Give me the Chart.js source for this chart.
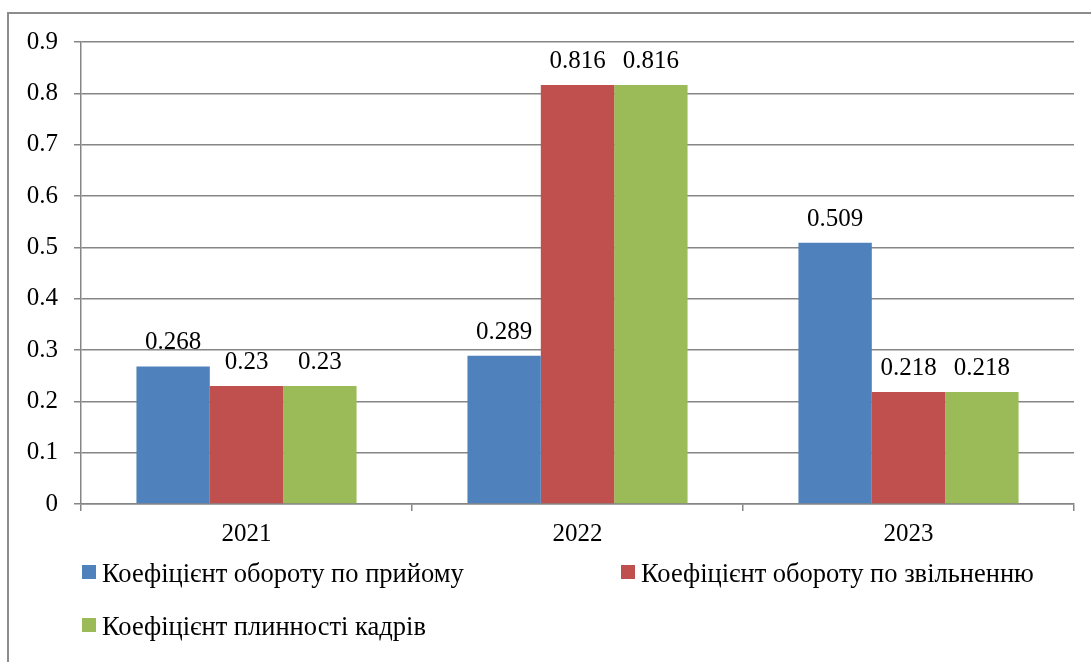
<!DOCTYPE html>
<html>
<head>
<meta charset="utf-8">
<script src="https://cdn.jsdelivr.net/npm/chart.js@4/dist/chart.umd.min.js"></script>
<style>
  html, body { margin: 0; padding: 0; background: #fff; overflow: hidden; }
  #wrap { position: relative; width: 1091px; height: 662px; }
  #frame { position: absolute; left: 7px; top: 12px; width: 2000px; height: 2000px; border: 2px solid #8c8c8c; }
  #chart { position: absolute; left: 0; top: 0; }
</style>
</head>
<body>
<div id="wrap">
  <div id="frame"></div>
  <canvas id="chart" width="1091" height="662"></canvas>
</div>
<script>
const years = ['2021', '2022', '2023'];
const hireRate = [0.268, 0.289, 0.509];
const leaveRate = [0.23, 0.816, 0.218];
const turnoverRate = [0.23, 0.816, 0.218];
const seriesNames = [
    'Коефіцієнт обороту по прийому',
    'Коефіцієнт обороту по звільненню',
    'Коефіцієнт плинності кадрів'
];
const colors = ['#4F81BD', '#C0504D', '#9BBB59'];

const serif = "'Liberation Serif', serif";

// value labels above bars
const barLabels = {
    id: 'barLabels',
    afterDatasetsDraw(chart) {
        const ctx = chart.ctx;
        ctx.save();
        ctx.font = "25px 'Liberation Serif', serif";
        ctx.fillStyle = '#000';
        ctx.textAlign = 'center';
        ctx.textBaseline = 'alphabetic';
        chart.data.datasets.forEach((ds, i) => {
            chart.getDatasetMeta(i).data.forEach((bar, j) => {
                ctx.fillText(String(ds.data[j]), bar.x, bar.y - 17);
            });
        });
        ctx.restore();
    }
};

// Excel-style legend: two columns, left aligned
const sideLegend = {
    id: 'sideLegend',
    afterDraw(chart) {
        const ctx = chart.ctx;
        const spots = [[82, 565], [621, 565], [82, 618]];
        ctx.save();
        ctx.font = "26.5px 'Liberation Serif', serif";
        ctx.textBaseline = 'alphabetic';
        ctx.textAlign = 'left';
        chart.data.datasets.forEach((ds, i) => {
            const [x, y] = spots[i];
            ctx.fillStyle = ds.backgroundColor;
            ctx.fillRect(x, y, 14, 14);
            ctx.fillStyle = '#000';
            ctx.fillText(ds.label, x + 20, y + 17);
        });
        ctx.restore();
    }
};

function draw() {
    new Chart(document.getElementById('chart'), {
        type: 'bar',
        data: {
            labels: years,
            datasets: [
                { label: seriesNames[0], data: hireRate, backgroundColor: colors[0] },
                { label: seriesNames[1], data: leaveRate, backgroundColor: colors[1] },
                { label: seriesNames[2], data: turnoverRate, backgroundColor: colors[2] }
            ]
        },
        options: {
            responsive: false,
            animation: false,
            layout: { padding: { top: 42, right: 17, left: 0, bottom: 0 } },
            datasets: {
                bar: { categoryPercentage: 0.665, barPercentage: 1.0, borderWidth: 0 }
            },
            plugins: {
                legend: { display: false },
                tooltip: { enabled: false }
            },
            scales: {
                x: {
                    afterFit(scale) { scale.height = 158; },
                    grid: {
                        offset: true,
                        drawOnChartArea: false,
                        drawTicks: true,
                        tickLength: 7,
                        color: '#868686',
                        lineWidth: 1.5
                    },
                    border: { display: true, color: '#868686', width: 1.5 },
                    ticks: { color: '#000', font: { family: serif, size: 25 }, padding: 8 }
                },
                y: {
                    min: 0,
                    max: 0.9,
                    afterFit(scale) { scale.width = 81; },
                    grid: { color: '#868686', lineWidth: 1.5, tickLength: 7 },
                    border: { display: true, color: '#868686', width: 1.5 },
                    ticks: {
                        stepSize: 0.1,
                        color: '#000',
                        font: { family: serif, size: 25 },
                        padding: 16
                    }
                }
            }
        },
        plugins: [barLabels, sideLegend]
    });
}

if (document.fonts && document.fonts.load) {
    document.fonts.load("25px 'Liberation Serif'").then(draw, draw);
} else {
    draw();
}
</script>
</body>
</html>
